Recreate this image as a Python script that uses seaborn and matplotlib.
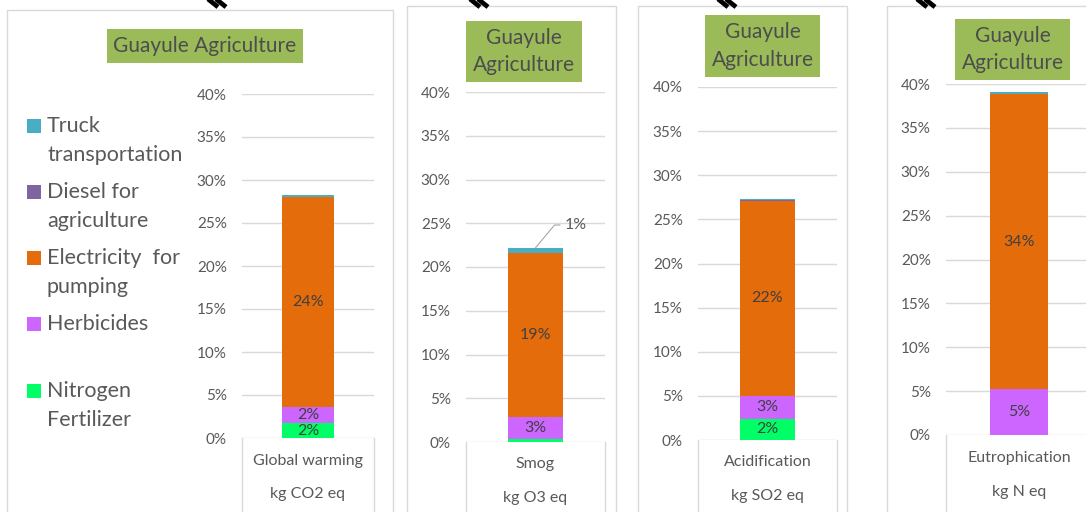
import matplotlib
matplotlib.use("Agg")
import matplotlib.pyplot as plt
import seaborn as sns
from matplotlib.patches import Rectangle
from matplotlib.lines import Line2D
import matplotlib.ticker as ticker

sns.set_theme(style="white")
plt.rcParams["font.family"] = ["Lato", "DejaVu Sans"]

# data (percent of total impact)
categories = ["Global warming", "Smog", "Acidification", "Eutrophication"]
units = ["kg CO2 eq", "kg O3 eq", "kg SO2 eq", "kg N eq"]
series_names = ["Nitrogen\nFertilizer", "Herbicides", "Electricity  for\npumping",
                "Diesel for\nagriculture", "Truck\ntransportation"]
nitrogen = [1.7, 0.3, 2.4, 0.0]
herbicides = [1.9, 2.6, 2.6, 5.2]
electricity = [24.4, 18.7, 22.1, 33.7]
diesel = [0.05, 0.05, 0.15, 0.0]
truck = [0.2, 0.55, 0.05, 0.15]
title = "Guayule Agriculture"

colors = ["#00FF66", "#CC66FF", "#E46C0A", "#8064A2", "#4BACC6"]
series = [nitrogen, herbicides, electricity, diesel, truck]

W, H = 1086, 512
GRID = "#D9D9D9"
TXT = "#595959"


def fx(x):
    return x / W


def fy(y):
    return 1 - y / H


fig = plt.figure(figsize=(W / 100, H / 100), dpi=100)

# layout in pixels
panel_px = [(7, 10, 393), (407, 6, 616), (638, 6, 847), (887, 6, 1095)]
axes_px = [(242, 94, 374, 438), (466, 92, 605, 442), (698, 87, 837, 440), (946, 84, 1092, 435)]
title_px = [(107, 29, 303, 63), (466, 21, 582, 82), (705, 15, 820, 77), (955, 19, 1070, 80)]
mark_px = [208, 470, 718, 917]
cat_y = [(461, 494), (464, 498), (462, 496), (458, 492)]

for i in range(4):
    # panel border
    l, t, r = panel_px[i]
    fig.add_artist(Rectangle((fx(l), fy(H + 5)), fx(r) - fx(l), fy(t) - fy(H + 5),
                             transform=fig.transFigure, fill=False, edgecolor=GRID, lw=1))
    # decorative marks at the top
    m = mark_px[i]
    for dx in (0, 8):
        fig.add_artist(Line2D([fx(m + dx), fx(m + dx + 10)], [fy(-1), fy(7)],
                              transform=fig.transFigure, color="black", lw=3.4,
                              solid_capstyle="butt"))

    # title box
    tl, tt, tr, tb = title_px[i]
    fig.add_artist(Rectangle((fx(tl), fy(tb)), fx(tr) - fx(tl), fy(tt) - fy(tb),
                             transform=fig.transFigure, facecolor="#9BBB59", edgecolor="none"))
    ttl = title if i == 0 else title.replace(" ", "\n")
    fig.text(fx((tl + tr) / 2), fy((tt + tb) / 2), ttl, ha="center", va="center",
             fontsize=15, color="#4D4D4D", linespacing=1.45)

    # axes
    al, at, ar, ab = axes_px[i]
    ax = fig.add_axes([fx(al), fy(ab), fx(ar) - fx(al), (ab - at) / H])
    bottom = 0.0
    for vals, col in zip(series, colors):
        v = vals[i]
        sns.barplot(x=[categories[i]], y=[v], bottom=bottom, color=col, width=0.4,
                    saturation=1, errorbar=None, ax=ax, linewidth=0)
        if v >= 1.5:
            ax.text(0, bottom + v / 2, f"{v:.0f}%", ha="center", va="center",
                    fontsize=11.5, color="#404040")
        bottom += v
    total = bottom
    if 0.5 <= truck[i] < 1.5:
        ax.annotate(f"{truck[i]:.0f}%", xy=(0, total), xytext=(0.21, 24.8),
                    ha="left", va="center", fontsize=11.5, color=TXT,
                    arrowprops=dict(arrowstyle="-", color="#A6A6A6", lw=0.8,
                                    connectionstyle="angle,angleA=0,angleB=50,rad=0",
                                    shrinkA=1, shrinkB=0))

    ax.set_xlim(-0.5, 0.5)
    ax.set_ylim(0, 40)
    ax.set_yticks(range(0, 41, 5))
    ax.yaxis.set_major_formatter(ticker.FuncFormatter(lambda x, pos: f"{x:.0f}%"))
    ax.tick_params(axis="y", length=0, pad=11, labelsize=11, labelcolor=TXT)
    ax.set_xticks([])
    ax.set_xlabel("")
    ax.set_ylabel("")
    ax.set_axisbelow(True)
    ax.yaxis.grid(True, color=GRID, lw=1)
    for s in ax.spines.values():
        s.set_visible(False)
    ax.patch.set_alpha(0)

    # category box below the axis
    for xx in (al, ar):
        fig.add_artist(Line2D([fx(xx), fx(xx)], [fy(ab), fy(H + 5)],
                              transform=fig.transFigure, color=GRID, lw=1))
    cx = fx((al + ar) / 2)
    fig.text(cx, fy(cat_y[i][0]), categories[i], ha="center", va="center", fontsize=11.5, color=TXT)
    fig.text(cx, fy(cat_y[i][1]), units[i], ha="center", va="center", fontsize=11.5, color=TXT)

# legend (top to bottom)
leg_y = [126, 192, 258, 324, 391]
for k, (name, col) in enumerate(zip(series_names[::-1], colors[::-1])):
    y0 = leg_y[k]
    fig.add_artist(Rectangle((fx(27), fy(y0 + 7)), fx(14), 14 / H, transform=fig.transFigure,
                             facecolor=col, edgecolor="none"))
    yc = y0 + 14.5 if "\n" in name else y0
    fig.text(fx(47), fy(yc), name, ha="left", va="center", fontsize=15.5, color=TXT,
             linespacing=1.6)

fig.savefig("out.png", dpi=100)
